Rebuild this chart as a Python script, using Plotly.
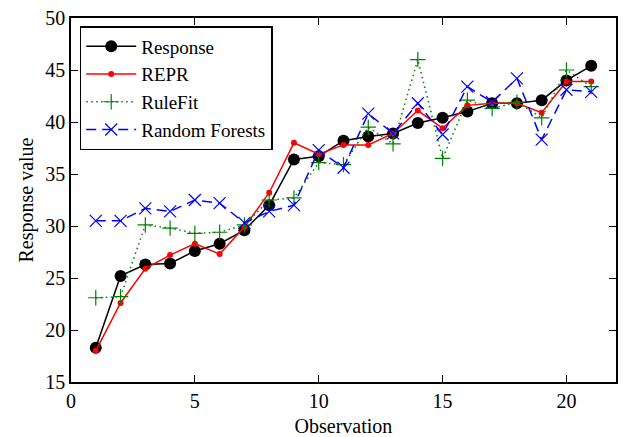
import plotly.graph_objects as go

obs = list(range(1, 22))
response = [18.3, 25.2, 26.3, 26.4, 27.6, 28.3, 29.6, 32.0, 36.4, 36.7, 38.2, 38.6, 38.9, 39.9, 40.4, 41.0, 41.8, 41.8, 42.1, 44.0, 45.4]
repr_vals = [18.0, 22.6, 25.9, 27.2, 28.3, 27.3, 29.9, 33.2, 38.0, 36.9, 37.8, 37.8, 38.9, 41.1, 39.4, 41.6, 41.8, 41.8, 40.9, 43.9, 43.9]
rulefit = [23.1, 23.2, 30.1, 29.8, 29.3, 29.4, 30.1, 32.5, 32.7, 36.1, 35.9, 39.5, 37.9, 46.0, 36.5, 42.1, 41.3, 41.9, 40.4, 45.0, 43.4]
rforest = [30.5, 30.5, 31.7, 31.4, 32.5, 32.2, 30.3, 31.4, 32.0, 37.3, 35.6, 40.8, 38.9, 41.8, 38.8, 43.4, 41.9, 44.2, 38.3, 43.1, 42.9]

x_ticks = [0, 5, 10, 15, 20]
y_ticks = [15, 20, 25, 30, 35, 40, 45, 50]

font_family = "Liberation Serif"
fsize = 20

fig = go.Figure()
fig.add_trace(go.Scatter(x=obs, y=response, name="Response", mode="lines+markers",
                         line=dict(color="black", width=1.5),
                         marker=dict(symbol="circle", size=12, color="black")))
fig.add_trace(go.Scatter(x=obs, y=repr_vals, name="REPR", mode="lines+markers",
                         line=dict(color="red", width=1.5),
                         marker=dict(symbol="circle", size=6, color="red")))
fig.add_trace(go.Scatter(x=obs, y=rulefit, name="RuleFit", mode="lines+markers",
                         line=dict(color="#008000", width=1.5, dash="1.5px,3.5px"),
                         marker=dict(symbol="cross-thin", size=11, color="#008000",
                                     line=dict(color="#008000", width=1.2))))
fig.add_trace(go.Scatter(x=obs, y=rforest, name="Random Forests", mode="lines+markers",
                         line=dict(color="blue", width=1.5, dash="10px,6px"),
                         marker=dict(symbol="x-thin", size=12, color="blue",
                                     line=dict(color="blue", width=1.2))))

axis_common = dict(showline=True, linecolor="black", linewidth=1.5, mirror="ticks",
                   ticks="inside", ticklen=7, tickwidth=1, tickcolor="black",
                   showgrid=False, zeroline=False, automargin=False,
                   tickfont=dict(family=font_family, size=fsize, color="black"))

fig.update_xaxes(range=[0, 22], tickvals=x_ticks, ticktext=[str(v) for v in x_ticks],
                 title=dict(text="Observation", font=dict(family=font_family, size=fsize, color="black"), standoff=10),
                 **axis_common)
fig.update_yaxes(range=[15, 50], tickvals=y_ticks, ticktext=[str(v) for v in y_ticks],
                 title=dict(text="Response value", font=dict(family=font_family, size=fsize, color="black"), standoff=6),
                 **axis_common)

fig.update_layout(
    width=627, height=437,
    margin=dict(l=71, r=11, t=18, b=55),
    paper_bgcolor="white", plot_bgcolor="white",
    font=dict(family=font_family, size=fsize, color="black"),
    legend=dict(x=0.016, y=0.978, xanchor="left", yanchor="top",
                bordercolor="black", borderwidth=1.5, bgcolor="white",
                font=dict(family=font_family, size=19, color="black"),
                tracegroupgap=0, itemwidth=50),
    showlegend=True,
)

fig.write_html("out.html")
